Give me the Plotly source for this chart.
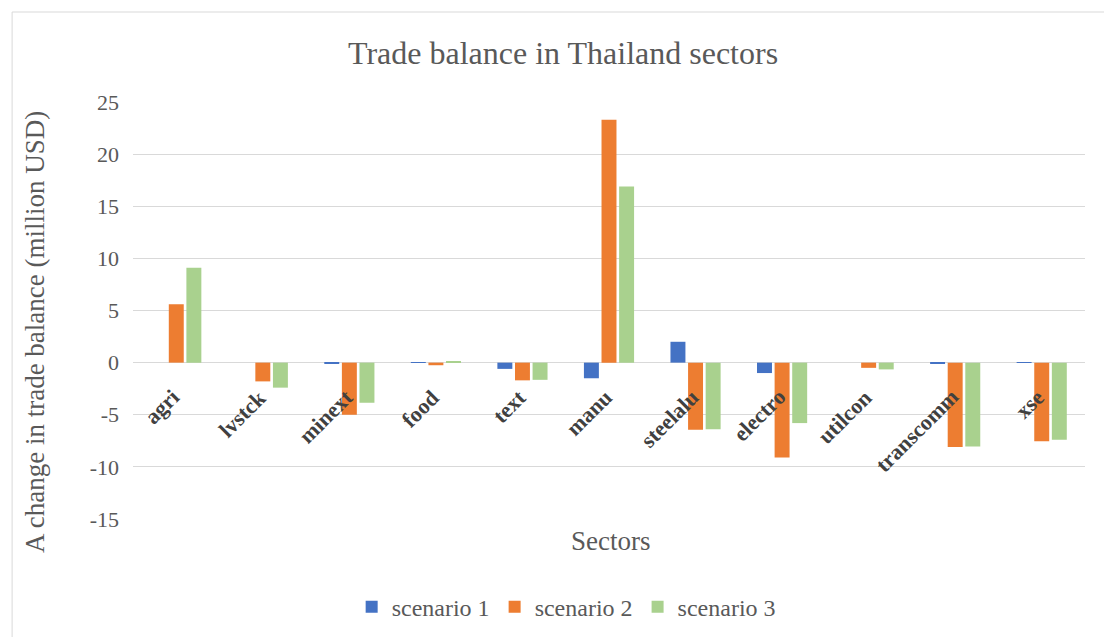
import plotly.graph_objects as go

sectors = ["agri", "lvstck", "minext", "food", "text", "manu", "steelalu",
           "electro", "utilcon", "transcomm", "xse"]
scenario1 = [0.0, 0.0, -0.1, 0.05, -0.6, -1.5, 2.0, -1.0, 0.0, -0.05, 0.05]
scenario2 = [5.6, -1.8, -5.0, -0.25, -1.7, 23.3, -6.45, -9.1, -0.5, -8.1, -7.55]
scenario3 = [9.1, -2.4, -3.85, 0.15, -1.65, 16.9, -6.4, -5.8, -0.65, -8.05, -7.4]
y_ticks = [-15, -10, -5, 0, 5, 10, 15, 20, 25]
y_ticktext = ["-15", "-10", "-5", "0", "5", "10", "15", "20", "25"]

FONT = "Liberation Serif"
GREY = "#595959"

fig = go.Figure()
for name, vals, col in [("scenario 1", scenario1, "#4472C4"),
                        ("scenario 2", scenario2, "#ED7D31"),
                        ("scenario 3", scenario3, "#A9D18E")]:
    fig.add_trace(go.Bar(x=sectors, y=vals, name=name, marker_color=col,
                         marker_line_width=0))

for s in sectors:
    fig.add_annotation(x=s, y=0, xref="x", yref="y", text="<b>%s</b>" % s,
                       textangle=-45, showarrow=False, xanchor="right",
                       yanchor="top", xshift=11, yshift=-19,
                       font=dict(family=FONT, size=22, color="#404040"))

# axis titles
fig.add_annotation(text="A change in trade balance (million USD)", xref="paper",
                   yref="paper", x=-0.1029, y=0.4484, textangle=-90, showarrow=False,
                   xanchor="center", yanchor="middle",
                   font=dict(family=FONT, size=27, color=GREY))
fig.add_annotation(text="Sectors", xref="paper", yref="paper", x=0.502, y=-0.0528,
                   showarrow=False, xanchor="center", yanchor="middle",
                   font=dict(family=FONT, size=27, color=GREY))

fig.add_shape(type="rect", xref="paper", yref="paper",
              x0=-0.127, x1=1.03, y0=-0.35, y1=1.2158,
              line=dict(color="#d9d9d9", width=1), fillcolor="rgba(0,0,0,0)",
              layer="below")

fig.update_layout(
    width=1104, height=637,
    margin=dict(l=133, r=19, t=102, b=118, autoexpand=False),
    paper_bgcolor="white", plot_bgcolor="white",
    barmode="group", bargap=0.39, bargroupgap=0.15,
    title=dict(text="Trade balance in Thailand sectors", x=0.51, xanchor="center",
               y=0.917, yanchor="middle",
               font=dict(family=FONT, size=32, color=GREY)),
    font=dict(family=FONT, color=GREY),
    xaxis=dict(showticklabels=False, showgrid=False, zeroline=False,
               showline=False, ticks=""),
    yaxis=dict(range=[-15, 25], tickvals=y_ticks, ticktext=y_ticktext, showgrid=True,
               gridcolor="#d9d9d9", gridwidth=1, zeroline=True,
               zerolinecolor="#d9d9d9", zerolinewidth=1,
               tickfont=dict(family=FONT, size=22, color=GREY), ticks="",
               ticklabelstandoff=13),
    legend=dict(orientation="h", x=0.455, xanchor="center",
                yref="container", y=0.047, yanchor="middle",
                font=dict(family=FONT, size=24, color=GREY), traceorder="normal",
                itemwidth=30),
    showlegend=True,
)

fig.write_html("out.html")
